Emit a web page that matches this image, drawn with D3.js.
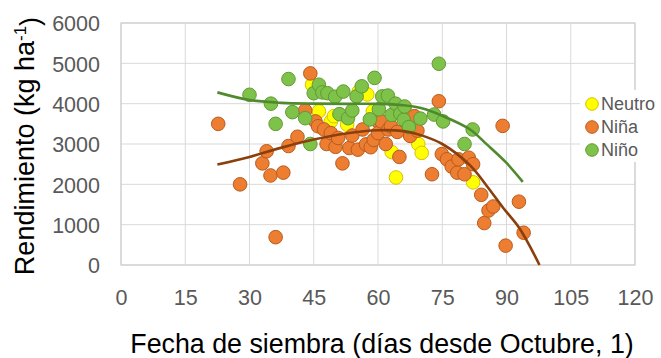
<!DOCTYPE html>
<html><head><meta charset="utf-8">
<script src="https://cdn.jsdelivr.net/npm/d3@7"></script>
<style>body{margin:0;background:#fff}svg{display:block}text{font-family:"Liberation Sans",Arial,sans-serif}</style>
</head><body><svg id="c" width="661" height="358"></svg>
<script>
const xTicks = [0,15,30,45,60,75,90,105,120];
const yTicks = [0,1000,2000,3000,4000,5000,6000];
const seriesNames = ["Neutro","Niña","Niño"];

const neutroX = [44.6,46.2,49,49.7,52.8,55.5,57.5,58.8,63.2,64.2,66.3,69.4,70.2,82.2];
const neutroY = [4470,3810,3560,3690,3480,4300,4230,3810,2800,2170,3910,3000,2780,2050];

const ninaX = [22.7,27.8,33,34,34.9,36.1,37.9,39.1,41.2,43,44.2,45.4,46,47.4,48,49,50.1,50.7,51.7,53.3,54,55.3,56.4,57.2,58.3,59,60,60,60.8,61.8,62.4,63,64.5,65,66.5,67.5,68.5,69.2,72.6,74.2,74.9,76.1,77.2,78.5,78.8,80.2,81.2,82.2,84.1,84.8,85.8,86.9,89.1,89.8,92.9,94];
const ninaY = [3500,2000,2520,2820,2220,690,2290,2950,3180,3830,4750,3560,3440,3360,3000,3270,2930,3150,2520,2900,3210,2860,3360,2990,2920,3100,3560,3270,3560,3000,3360,3440,3300,2680,3560,3200,3690,3330,2250,4060,2750,2620,2440,2290,2620,2250,2660,2500,1740,1040,1350,1450,3450,480,1570,800];

const ninoX = [30,35,36.1,39.1,40,43,44.2,45,46.2,47,48.2,50,51,51.9,53,54,55,56.2,58.1,59.2,60.2,61,62.3,63.2,64.1,65.2,66,66.2,67.2,69.9,73.1,74.2,75.2,80.2,82.1];
const ninoY = [4220,4000,3500,4610,3790,3640,3000,4260,4470,4280,4260,4170,3740,4300,3640,3830,4180,4430,3610,4640,3860,4180,4200,3720,4000,3750,3600,3930,3420,3630,3730,4990,3560,3000,3360];

// trend lines
const ninoTrendX = [22.5,30,37.5,45,52.5,60,66,70,75,81.5,85.4,90,93.8];
const ninoTrendY = [4280,4090,4020,4000,3995,3995,3960,3890,3700,3360,2990,2530,2060];
const ninaTrendX = [22.5,30,37.5,45,52.5,60,66,70,75,81.5,85.4,89.2,93.1,97.7];
const ninaTrendY = [2490,2680,2910,3110,3260,3340,3320,3220,3000,2470,1960,1420,900,0];

const svg = d3.select("#c");
const L=121,R=635,T=23,B=265;
const x = d3.scaleLinear().domain([0,120]).range([L,R]);
const y = d3.scaleLinear().domain([0,6000]).range([B,T]);

const grid = "#d9d9d9";
svg.append("g").selectAll("line").data(xTicks).join("line")
  .attr("x1",d=>x(d)).attr("x2",d=>x(d)).attr("y1",T).attr("y2",B)
  .attr("stroke",grid).attr("stroke-width",1);
svg.append("g").selectAll("line").data(yTicks).join("line")
  .attr("y1",d=>y(d)).attr("y2",d=>y(d)).attr("x1",L).attr("x2",R)
  .attr("stroke",grid).attr("stroke-width",1);
svg.append("rect").attr("x",L).attr("y",T).attr("width",R-L).attr("height",B-T)
  .attr("fill","none").attr("stroke","#d0d0d0").attr("stroke-width",1.2);

const xa = svg.append("g").attr("transform",`translate(0,${B})`)
  .call(d3.axisBottom(x).tickValues(xTicks).tickSize(0).tickPadding(0).tickFormat(d3.format("d")));
xa.select(".domain").remove();
xa.selectAll("text").attr("y",40).attr("dy",0).attr("fill","#595959")
  .style("font-size","21.5px").style("font-family","Liberation Sans, Arial, sans-serif");
const ya = svg.append("g").attr("transform",`translate(${L},0)`)
  .call(d3.axisLeft(y).tickValues(yTicks).tickSize(0).tickPadding(21).tickFormat(d3.format("d")));
ya.select(".domain").remove();
ya.selectAll("text").attr("dy","0.36em").attr("fill","#595959")
  .style("font-size","21.5px").style("font-family","Liberation Sans, Arial, sans-serif");

function pts(xs,ys){return xs.map((d,i)=>({x:d,y:ys[i]}));}
const series = [
  {name:seriesNames[0],data:pts(neutroX,neutroY),fill:"#ffff00",stroke:"#d6c000"},
  {name:seriesNames[1],data:pts(ninaX,ninaY),fill:"#ed7d31",stroke:"#b85c1f"},
  {name:seriesNames[2],data:pts(ninoX,ninoY),fill:"#7fc24a",stroke:"#5f9a33"}
];
series.forEach(s=>{
  svg.append("g").selectAll("circle").data(s.data).join("circle")
    .attr("cx",d=>x(d.x)).attr("cy",d=>y(d.y)).attr("r",6.8)
    .attr("fill",s.fill).attr("stroke",s.stroke).attr("stroke-width",1);
});

const line = d3.line().x(d=>x(d.x)).y(d=>y(d.y)).curve(d3.curveCatmullRom);
svg.append("path").datum(pts(ninaTrendX,ninaTrendY)).attr("d",line)
  .attr("fill","none").attr("stroke","#8a3f0c").attr("stroke-width",2.6);
svg.append("path").datum(pts(ninoTrendX,ninoTrendY)).attr("d",line)
  .attr("fill","none").attr("stroke","#4f8a2e").attr("stroke-width",2.6);

const lg = svg.append("g");
lg.append("rect").attr("x",580).attr("y",90).attr("width",72).attr("height",72).attr("fill","#fff");
series.forEach((s,i)=>{
  const cy = 104 + i*23;
  lg.append("circle").attr("cx",592).attr("cy",cy).attr("r",6.3)
    .attr("fill",s.fill).attr("stroke",s.stroke).attr("stroke-width",1);
  lg.append("text").attr("x",601).attr("y",cy).attr("dy","0.36em")
    .attr("fill","#595959").style("font-size","18px").text(s.name);
});

svg.append("text").attr("x",382).attr("y",353).attr("text-anchor","middle")
  .style("font-size","26.8px").attr("fill","#000").text("Fecha de siembra (días desde Octubre, 1)");
const yt = svg.append("text").attr("transform","translate(34,146) rotate(-90)")
  .attr("text-anchor","middle").style("font-size","27px").attr("fill","#000");
yt.append("tspan").text("Rendimiento (kg ha");
yt.append("tspan").attr("dy","-0.5em").style("font-size","17px").text("-1");
yt.append("tspan").attr("dy","0.5em").text(")");
</script></body></html>
